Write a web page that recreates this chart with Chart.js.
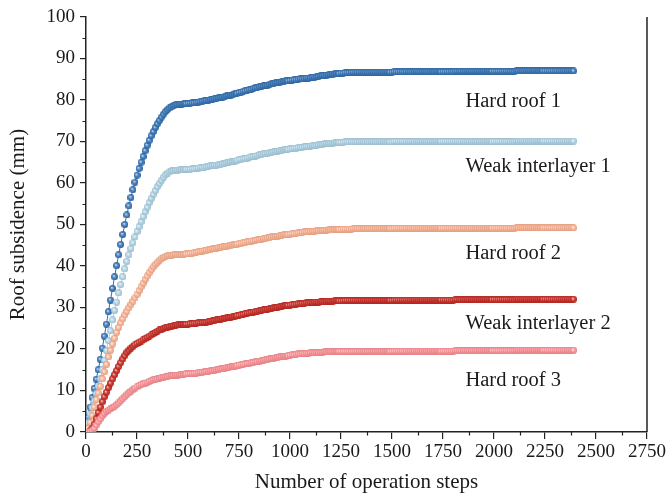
<!DOCTYPE html>
<html>
<head>
<meta charset="utf-8">
<script src="https://cdn.jsdelivr.net/npm/chart.js@4/dist/chart.umd.min.js"></script>
<style>
  html, body { margin: 0; padding: 0; background: #ffffff; }
  #wrap { width: 670px; height: 500px; position: relative; }
</style>
</head>
<body>
<div id="wrap"><canvas id="chart" width="670" height="500"></canvas></div>
<script>
// Operation steps sampled every 10 steps, 0 … 2390
const steps = [];
for (let s = 0; s <= 2390; s += 10) steps.push(s);

// Roof subsidence (mm) for each monitored layer
const hardRoof1 = [
  0, 3.5, 6, 8.3, 10.5, 12.7, 15, 17.5, 20.2, 23.1, 26.0,
  29.0, 31.8, 34.6, 37.4, 40.1, 42.7, 45.2, 47.6, 50.0, 52.3,
  54.5, 56.5, 58.4, 60.2, 61.9, 63.5, 65.0, 66.4, 67.8, 69.1,
  70.3, 71.4, 72.4, 73.4, 74.3, 75.1, 75.9, 76.6, 77.2, 77.7,
  78.1, 78.4, 78.6, 78.8, 78.9, 79.0, 79.0, 79.1, 79.1, 79.2,
  79.2, 79.3, 79.3, 79.4, 79.5, 79.6, 79.7, 79.8, 79.9, 80.0,
  80.1, 80.2, 80.3, 80.4, 80.5, 80.6, 80.7, 80.8, 81.0, 81.1,
  81.2, 81.3, 81.5, 81.6, 81.8, 81.9, 82.1, 82.2, 82.3, 82.5,
  82.6, 82.8, 82.9, 83.0, 83.2, 83.3, 83.4, 83.5, 83.6, 83.8,
  83.9, 84.0, 84.1, 84.2, 84.3, 84.4, 84.5, 84.6, 84.6, 84.7,
  84.8, 84.9, 84.9, 85.0, 85.1, 85.1, 85.2, 85.3, 85.3, 85.4,
  85.5, 85.5, 85.6, 85.7, 85.8, 85.9, 85.9, 86.0, 86.1, 86.2,
  86.2, 86.3, 86.4, 86.4, 86.5, 86.5, 86.6, 86.6, 86.6, 86.7,
  86.7, 86.7, 86.7, 86.7, 86.7, 86.7, 86.7, 86.7, 86.7, 86.7,
  86.7, 86.7, 86.7, 86.7, 86.7, 86.7, 86.7, 86.7, 86.7, 86.7,
  86.8, 86.8, 86.8, 86.8, 86.8, 86.8, 86.8, 86.8, 86.8, 86.8,
  86.8, 86.8, 86.8, 86.8, 86.8, 86.8, 86.8, 86.8, 86.8, 86.8,
  86.8, 86.8, 86.8, 86.8, 86.8, 86.8, 86.8, 86.8, 86.8, 86.8,
  86.9, 86.9, 86.9, 86.9, 86.9, 86.9, 86.9, 86.9, 86.9, 86.9,
  86.9, 86.9, 86.9, 86.9, 86.9, 86.9, 86.9, 86.9, 86.9, 86.9,
  86.9, 86.9, 86.9, 86.9, 86.9, 86.9, 86.9, 86.9, 86.9, 86.9,
  87.0, 87.0, 87.0, 87.0, 87.0, 87.0, 87.0, 87.0, 87.0, 87.0,
  87.0, 87.0, 87.0, 87.0, 87.0, 87.0, 87.0, 87.0, 87.0, 87.0,
  87.0, 87.0, 87.0, 87.0, 87.0, 87.0, 87.0, 87.0, 87.0
];

const weakInterlayer1 = [
  0, 2.2, 4.3, 5.8, 7.5, 9.3, 11.0, 12.8, 15.0, 17.3, 19.6,
  22.0, 24.4, 27.0, 29.3, 31.3, 33.5, 35.5, 37.4, 39.3, 41.1,
  42.7, 44.2, 45.6, 47.0, 48.3, 49.5, 50.7, 51.9, 53.1, 54.2,
  55.3, 56.3, 57.3, 58.2, 59.1, 59.9, 60.7, 61.4, 62.0, 62.4,
  62.7, 62.9, 63.0, 63.1, 63.1, 63.2, 63.2, 63.2, 63.3, 63.3,
  63.3, 63.4, 63.4, 63.5, 63.6, 63.7, 63.7, 63.8, 63.9, 64.0,
  64.1, 64.2, 64.3, 64.3, 64.4, 64.5, 64.6, 64.7, 64.9, 65.0,
  65.1, 65.2, 65.3, 65.4, 65.6, 65.7, 65.8, 65.9, 66.0, 66.2,
  66.3, 66.4, 66.5, 66.6, 66.8, 66.9, 67.0, 67.1, 67.2, 67.3,
  67.4, 67.5, 67.6, 67.7, 67.8, 67.9, 68.0, 68.1, 68.1, 68.2,
  68.3, 68.4, 68.4, 68.5, 68.6, 68.6, 68.7, 68.8, 68.8, 68.9,
  69.0, 69.0, 69.1, 69.2, 69.3, 69.3, 69.4, 69.5, 69.5, 69.6,
  69.6, 69.7, 69.7, 69.8, 69.8, 69.8, 69.9, 69.9, 69.9, 69.9,
  69.9, 69.9, 69.9, 69.9, 69.9, 69.9, 69.9, 69.9, 69.9, 69.9,
  69.9, 69.9, 69.9, 69.9, 69.9, 69.9, 69.9, 69.9, 69.9, 69.9,
  70.0, 70.0, 70.0, 70.0, 70.0, 70.0, 70.0, 70.0, 70.0, 70.0,
  70.0, 70.0, 70.0, 70.0, 70.0, 70.0, 70.0, 70.0, 70.0, 70.0,
  70.0, 70.0, 70.0, 70.0, 70.0, 70.0, 70.0, 70.0, 70.0, 70.0,
  70.0, 70.0, 70.0, 70.0, 70.0, 70.0, 70.0, 70.0, 70.0, 70.0,
  70.0, 70.0, 70.0, 70.0, 70.0, 70.0, 70.0, 70.0, 70.0, 70.0,
  70.0, 70.0, 70.0, 70.0, 70.0, 70.0, 70.0, 70.0, 70.0, 70.0,
  70.1, 70.1, 70.1, 70.1, 70.1, 70.1, 70.1, 70.1, 70.1, 70.1,
  70.1, 70.1, 70.1, 70.1, 70.1, 70.1, 70.1, 70.1, 70.1, 70.1,
  70.1, 70.1, 70.1, 70.1, 70.1, 70.1, 70.1, 70.1, 70.1
];

const hardRoof2 = [
  0, 0.9, 2.3, 4.0, 6.0, 7.8, 9.4, 11.0, 12.8, 14.5, 16.3,
  18.1, 19.7, 21.2, 22.6, 24.0, 25.2, 26.3, 27.3, 28.2, 29.1,
  29.9, 30.7, 31.5, 32.3, 33.2, 34.1, 35.0, 35.9, 36.8, 37.6,
  38.4, 39.1, 39.8, 40.4, 40.9, 41.4, 41.8, 42.1, 42.3, 42.5,
  42.6, 42.6, 42.7, 42.7, 42.7, 42.7, 42.8, 42.8, 42.9, 42.9,
  43.0, 43.1, 43.2, 43.3, 43.4, 43.5, 43.6, 43.7, 43.8, 43.9,
  44.0, 44.1, 44.2, 44.3, 44.4, 44.5, 44.6, 44.7, 44.8, 44.9,
  45.0, 45.1, 45.2, 45.3, 45.4, 45.5, 45.6, 45.7, 45.8, 45.9,
  46.0, 46.1, 46.2, 46.3, 46.4, 46.5, 46.6, 46.7, 46.8, 46.9,
  47.0, 47.1, 47.1, 47.2, 47.3, 47.4, 47.5, 47.5, 47.6, 47.7,
  47.8, 47.8, 47.9, 48.0, 48.0, 48.1, 48.2, 48.2, 48.3, 48.3,
  48.4, 48.4, 48.5, 48.5, 48.5, 48.6, 48.6, 48.6, 48.7, 48.7,
  48.7, 48.8, 48.8, 48.8, 48.8, 48.9, 48.9, 48.9, 48.9, 48.9,
  49.0, 49.0, 49.0, 49.0, 49.0, 49.0, 49.0, 49.0, 49.0, 49.0,
  49.0, 49.0, 49.0, 49.0, 49.0, 49.0, 49.0, 49.0, 49.0, 49.0,
  49.1, 49.1, 49.1, 49.1, 49.1, 49.1, 49.1, 49.1, 49.1, 49.1,
  49.1, 49.1, 49.1, 49.1, 49.1, 49.1, 49.1, 49.1, 49.1, 49.1,
  49.1, 49.1, 49.1, 49.1, 49.1, 49.1, 49.1, 49.1, 49.1, 49.1,
  49.1, 49.1, 49.1, 49.1, 49.1, 49.1, 49.1, 49.1, 49.1, 49.1,
  49.1, 49.1, 49.1, 49.1, 49.1, 49.1, 49.1, 49.1, 49.1, 49.1,
  49.1, 49.1, 49.1, 49.1, 49.1, 49.1, 49.1, 49.1, 49.1, 49.1,
  49.2, 49.2, 49.2, 49.2, 49.2, 49.2, 49.2, 49.2, 49.2, 49.2,
  49.2, 49.2, 49.2, 49.2, 49.2, 49.2, 49.2, 49.2, 49.2, 49.2,
  49.2, 49.2, 49.2, 49.2, 49.2, 49.2, 49.2, 49.2, 49.2
];

const weakInterlayer2 = [
  0, 0, 0.3, 0.9, 1.8, 3.2, 4.7, 6.0, 7.3, 8.5, 9.6,
  10.7, 11.8, 12.8, 13.8, 14.8, 15.8, 16.7, 17.6, 18.4, 19.2,
  19.7, 20.2, 20.6, 21.0, 21.3, 21.6, 21.9, 22.2, 22.5, 22.8,
  23.1, 23.4, 23.7, 24.0, 24.3, 24.6, 24.8, 25.0, 25.2, 25.3,
  25.4, 25.5, 25.6, 25.7, 25.8, 25.8, 25.9, 25.9, 26.0, 26.0,
  26.1, 26.1, 26.2, 26.2, 26.3, 26.3, 26.4, 26.4, 26.5, 26.6,
  26.7, 26.8, 26.9, 27.0, 27.1, 27.2, 27.3, 27.4, 27.5, 27.6,
  27.7, 27.8, 27.9, 28.0, 28.1, 28.2, 28.3, 28.5, 28.6, 28.7,
  28.8, 28.9, 29.0, 29.1, 29.2, 29.3, 29.4, 29.5, 29.6, 29.7,
  29.8, 29.9, 30.0, 30.1, 30.2, 30.3, 30.4, 30.5, 30.5, 30.6,
  30.7, 30.7, 30.8, 30.9, 30.9, 31.0, 31.0, 31.1, 31.1, 31.2,
  31.2, 31.3, 31.3, 31.3, 31.4, 31.4, 31.4, 31.5, 31.5, 31.5,
  31.5, 31.6, 31.6, 31.6, 31.6, 31.6, 31.7, 31.7, 31.7, 31.7,
  31.7, 31.7, 31.7, 31.7, 31.7, 31.7, 31.7, 31.7, 31.7, 31.7,
  31.7, 31.7, 31.7, 31.7, 31.7, 31.7, 31.7, 31.7, 31.7, 31.7,
  31.8, 31.8, 31.8, 31.8, 31.8, 31.8, 31.8, 31.8, 31.8, 31.8,
  31.8, 31.8, 31.8, 31.8, 31.8, 31.8, 31.8, 31.8, 31.8, 31.8,
  31.8, 31.8, 31.8, 31.8, 31.8, 31.8, 31.8, 31.8, 31.8, 31.8,
  31.9, 31.9, 31.9, 31.9, 31.9, 31.9, 31.9, 31.9, 31.9, 31.9,
  31.9, 31.9, 31.9, 31.9, 31.9, 31.9, 31.9, 31.9, 31.9, 31.9,
  31.9, 31.9, 31.9, 31.9, 31.9, 31.9, 31.9, 31.9, 31.9, 31.9,
  32.0, 32.0, 32.0, 32.0, 32.0, 32.0, 32.0, 32.0, 32.0, 32.0,
  32.0, 32.0, 32.0, 32.0, 32.0, 32.0, 32.0, 32.0, 32.0, 32.0,
  32.0, 32.0, 32.0, 32.0, 32.0, 32.0, 32.0, 32.0, 32.0
];

const hardRoof3 = [
  0, 0, 0.1, 0.4, 0.9, 1.7, 2.5, 3.2, 3.9, 4.5, 5.0,
  5.3, 5.6, 5.9, 6.2, 6.6, 7.0, 7.5, 8.0, 8.5, 9.0,
  9.4, 9.8, 10.2, 10.6, 10.9, 11.2, 11.4, 11.6, 11.8, 12.0,
  12.2, 12.4, 12.6, 12.7, 12.8, 13.0, 13.1, 13.2, 13.3, 13.4,
  13.5, 13.6, 13.6, 13.7, 13.7, 13.8, 13.8, 13.9, 14.0, 14.0,
  14.1, 14.1, 14.2, 14.2, 14.3, 14.4, 14.4, 14.5, 14.6, 14.6,
  14.7, 14.8, 14.9, 15.0, 15.1, 15.2, 15.3, 15.4, 15.5, 15.6,
  15.7, 15.8, 15.9, 16.0, 16.1, 16.2, 16.3, 16.4, 16.5, 16.6,
  16.7, 16.8, 16.9, 17.0, 17.1, 17.2, 17.3, 17.4, 17.5, 17.6,
  17.7, 17.8, 17.9, 18.0, 18.1, 18.2, 18.3, 18.3, 18.4, 18.5,
  18.6, 18.6, 18.7, 18.8, 18.8, 18.9, 18.9, 19.0, 19.0, 19.1,
  19.1, 19.1, 19.2, 19.2, 19.2, 19.2, 19.3, 19.3, 19.3, 19.3,
  19.3, 19.4, 19.4, 19.4, 19.4, 19.4, 19.4, 19.4, 19.4, 19.4,
  19.4, 19.4, 19.4, 19.4, 19.4, 19.4, 19.4, 19.4, 19.4, 19.4,
  19.4, 19.4, 19.4, 19.4, 19.4, 19.4, 19.4, 19.4, 19.4, 19.4,
  19.5, 19.5, 19.5, 19.5, 19.5, 19.5, 19.5, 19.5, 19.5, 19.5,
  19.5, 19.5, 19.5, 19.5, 19.5, 19.5, 19.5, 19.5, 19.5, 19.5,
  19.5, 19.5, 19.5, 19.5, 19.5, 19.5, 19.5, 19.5, 19.5, 19.5,
  19.6, 19.6, 19.6, 19.6, 19.6, 19.6, 19.6, 19.6, 19.6, 19.6,
  19.6, 19.6, 19.6, 19.6, 19.6, 19.6, 19.6, 19.6, 19.6, 19.6,
  19.6, 19.6, 19.6, 19.6, 19.6, 19.6, 19.6, 19.6, 19.6, 19.6,
  19.7, 19.7, 19.7, 19.7, 19.7, 19.7, 19.7, 19.7, 19.7, 19.7,
  19.7, 19.7, 19.7, 19.7, 19.7, 19.7, 19.7, 19.7, 19.7, 19.7,
  19.7, 19.7, 19.7, 19.7, 19.7, 19.7, 19.7, 19.7, 19.7
];

// Curve names, written beside each plateau (label anchor in data units)
const seriesNames = ['Hard roof 1', 'Weak interlayer 1', 'Hard roof 2', 'Weak interlayer 2', 'Hard roof 3'];
const labelAnchors = [
  { x: 1860, y: 79.6 },
  { x: 1860, y: 64.0 },
  { x: 1860, y: 43.0 },
  { x: 1860, y: 26.0 },
  { x: 1860, y: 12.3 }
];

// Axis ticks
const xTicks = [0, 250, 500, 750, 1000, 1250, 1500, 1750, 2000, 2250, 2500, 2750];
const yTicks = [0, 10, 20, 30, 40, 50, 60, 70, 80, 90, 100];

const palette = [
  { base: [46, 110, 178], line: '#2e6eb2' },
  { base: [172, 210, 229], line: '#acd2e5' },
  { base: [253, 176, 143], line: '#fdb08f' },
  { base: [200, 36, 28],  line: '#c8241c' },
  { base: [255, 143, 148], line: '#ff8f94' }
];

const FONT = "'Liberation Serif', 'DejaVu Serif', serif";
const INK = '#1a1a1a';

// Shaded ball marker drawn on a small offscreen canvas
function ballMarker(rgb) {
  const size = 7;
  const c = document.createElement('canvas');
  c.width = size; c.height = size;
  const g = c.getContext('2d');
  const r = size / 2;
  const mix = (k) => rgb.map(v => Math.round(v + (255 - v) * k));
  const dark = rgb.map(v => Math.round(v * 0.88));
  const grad = g.createRadialGradient(r - 0.8, r - 0.8, 0.2, r, r, r);
  grad.addColorStop(0, `rgb(${mix(0.8).join(',')})`);
  grad.addColorStop(0.45, `rgb(${mix(0.15).join(',')})`);
  grad.addColorStop(1, `rgb(${dark.join(',')})`);
  g.fillStyle = grad;
  g.beginPath();
  g.arc(r, r, r, 0, Math.PI * 2);
  g.fill();
  return c;
}

const seriesValues = [hardRoof1, weakInterlayer1, hardRoof2, weakInterlayer2, hardRoof3];

const datasets = seriesValues.map((vals, i) => ({
  label: seriesNames[i],
  data: vals.map((v, k) => ({ x: steps[k], y: v })),
  borderColor: palette[i].line,
  borderWidth: 1,
  pointStyle: ballMarker(palette[i].base),
  pointRadius: 3.5,
  pointHoverRadius: 3.5,
  tension: 0,
  order: 5 - i
}));

// Minor ticks, right frame line and curve names
const decorations = {
  id: 'decorations',
  afterDraw(chart) {
    const { ctx, chartArea: a, scales } = chart;
    const xs = scales.x, ys = scales.y;
    ctx.save();
    ctx.strokeStyle = '#222';
    ctx.lineWidth = 1.2;
    ctx.beginPath();
    for (let v = 125; v < 2750; v += 250) {
      const px = Math.round(xs.getPixelForValue(v)) + 0.5;
      ctx.moveTo(px, a.bottom);
      ctx.lineTo(px, a.bottom + 3.5);
    }
    for (let v = 5; v < 100; v += 10) {
      const py = Math.round(ys.getPixelForValue(v)) + 0.5;
      ctx.moveTo(a.left, py);
      ctx.lineTo(a.left - 3.5, py);
    }
    ctx.stroke();

    ctx.lineWidth = 1.5;
    ctx.beginPath();
    ctx.moveTo(a.right, a.top);
    ctx.lineTo(a.right, a.bottom);
    ctx.stroke();

    ctx.fillStyle = INK;
    ctx.font = `20.5px ${FONT}`;
    ctx.textAlign = 'left';
    ctx.textBaseline = 'middle';
    seriesNames.forEach((name, i) => {
      const p = labelAnchors[i];
      ctx.fillText(name, xs.getPixelForValue(p.x), ys.getPixelForValue(p.y));
    });
    ctx.restore();
  }
};

new Chart(document.getElementById('chart'), {
  type: 'line',
  data: { datasets },
  plugins: [decorations],
  options: {
    responsive: false,
    animation: false,
    events: [],
    layout: { padding: { left: 6, right: 23, top: 17, bottom: 5 } },
    plugins: {
      legend: { display: false },
      tooltip: { enabled: false }
    },
    scales: {
      x: {
        type: 'linear',
        min: 0,
        max: 2750,
        afterBuildTicks(scale) { scale.ticks = xTicks.map(v => ({ value: v })); },
        afterFit(scale) { scale.height = 63; },
        ticks: {
          color: INK,
          font: { family: FONT, size: 19 },
          padding: 2,
          maxRotation: 0,
          autoSkip: false,
          callback: v => String(v)
        },
        grid: {
          display: true,
          drawOnChartArea: false,
          drawTicks: true,
          tickLength: 7,
          color: '#222',
          lineWidth: 1.2
        },
        border: { display: true, color: '#222', width: 1.5 },
        title: {
          display: true,
          text: 'Number of operation steps',
          color: INK,
          font: { family: FONT, size: 21 },
          padding: { top: 4, bottom: 0 }
        }
      },
      y: {
        type: 'linear',
        min: 0,
        max: 100,
        afterBuildTicks(scale) { scale.ticks = yTicks.map(v => ({ value: v })); },
        afterFit(scale) { scale.width = 80; },
        ticks: {
          color: INK,
          font: { family: FONT, size: 19 },
          padding: 5,
          autoSkip: false,
          callback: v => String(v)
        },
        grid: {
          display: true,
          drawOnChartArea: false,
          drawTicks: true,
          tickLength: 6,
          color: '#222',
          lineWidth: 1.2
        },
        border: { display: true, color: '#222', width: 1.5 },
        title: {
          display: true,
          text: 'Roof subsidence (mm)',
          color: INK,
          font: { family: FONT, size: 21 },
          padding: { top: 0, bottom: 4 }
        }
      }
    }
  }
});
</script>
</body>
</html>
